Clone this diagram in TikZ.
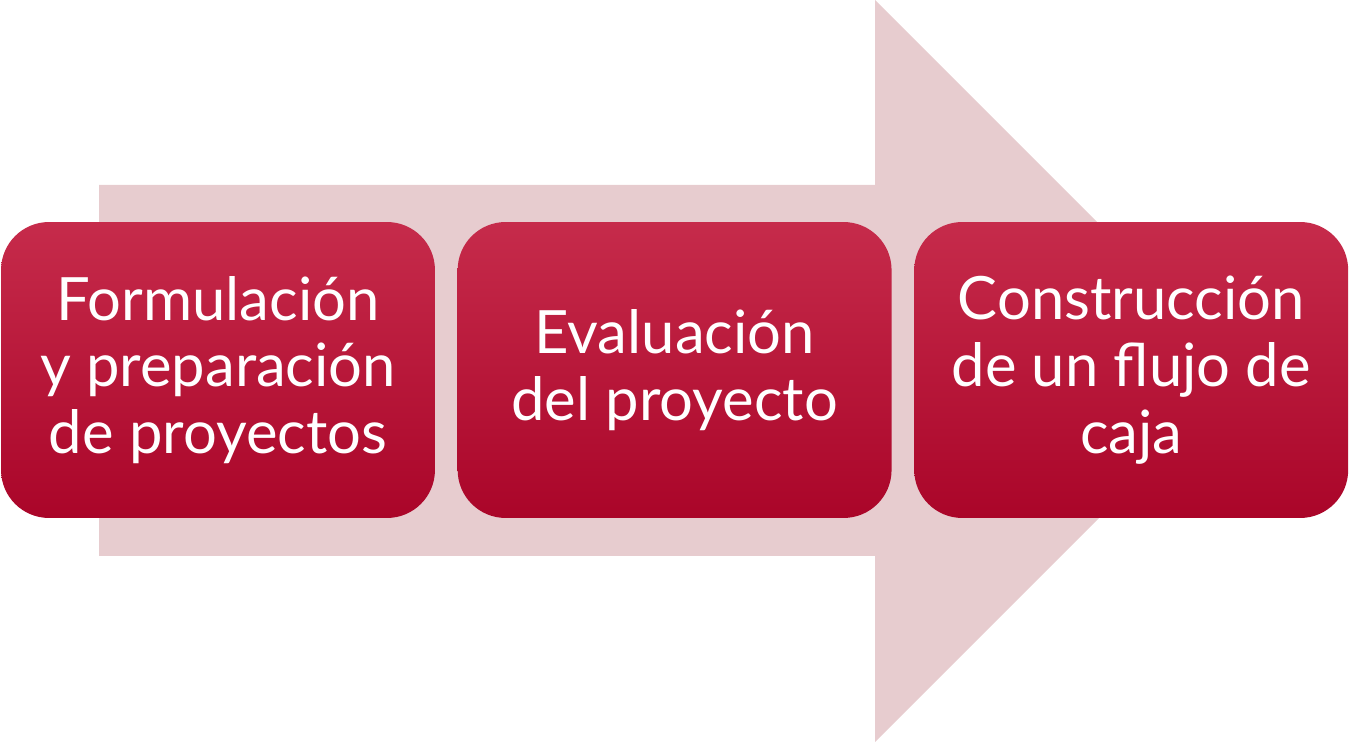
\documentclass[tikz,border=0pt]{standalone}
\usepackage{fontspec}
\setmainfont{Lato}
\usetikzlibrary{positioning}
\definecolor{arrowpink}{HTML}{E7CCCF}
\definecolor{boxtop}{HTML}{C62B4B}
\definecolor{boxbottom}{HTML}{AA0529}
\tikzset{
  stage/.style={rounded corners=0.96cm, top color=boxtop, bottom color=boxbottom,
    minimum width=8.68cm, minimum height=5.92cm, inner sep=0pt,
    text=white, align=center, font=\fontsize{34}{38}\selectfont}
}
\begin{document}
\begin{tikzpicture}[x=0.02cm,y=-0.02cm]
  \useasboundingbox (0,0) rectangle (1366,742);

  % big arrow behind
  \fill[arrowpink] (99,185) -- (875,185) -- (875,0) -- (1246,371)
    -- (875,742) -- (875,556) -- (99,556) -- cycle;

  % stages
  \node[stage] (form) at (218,370) {Formulación\\y preparación\\de proyectos};
  \node[stage, right=0.44cm of form] (eval) {Evaluación\\del proyecto};
  \node[stage, right=0.44cm of eval] (flujo) {Construcción\\de un flujo de\\caja};

\end{tikzpicture}
\end{document}
